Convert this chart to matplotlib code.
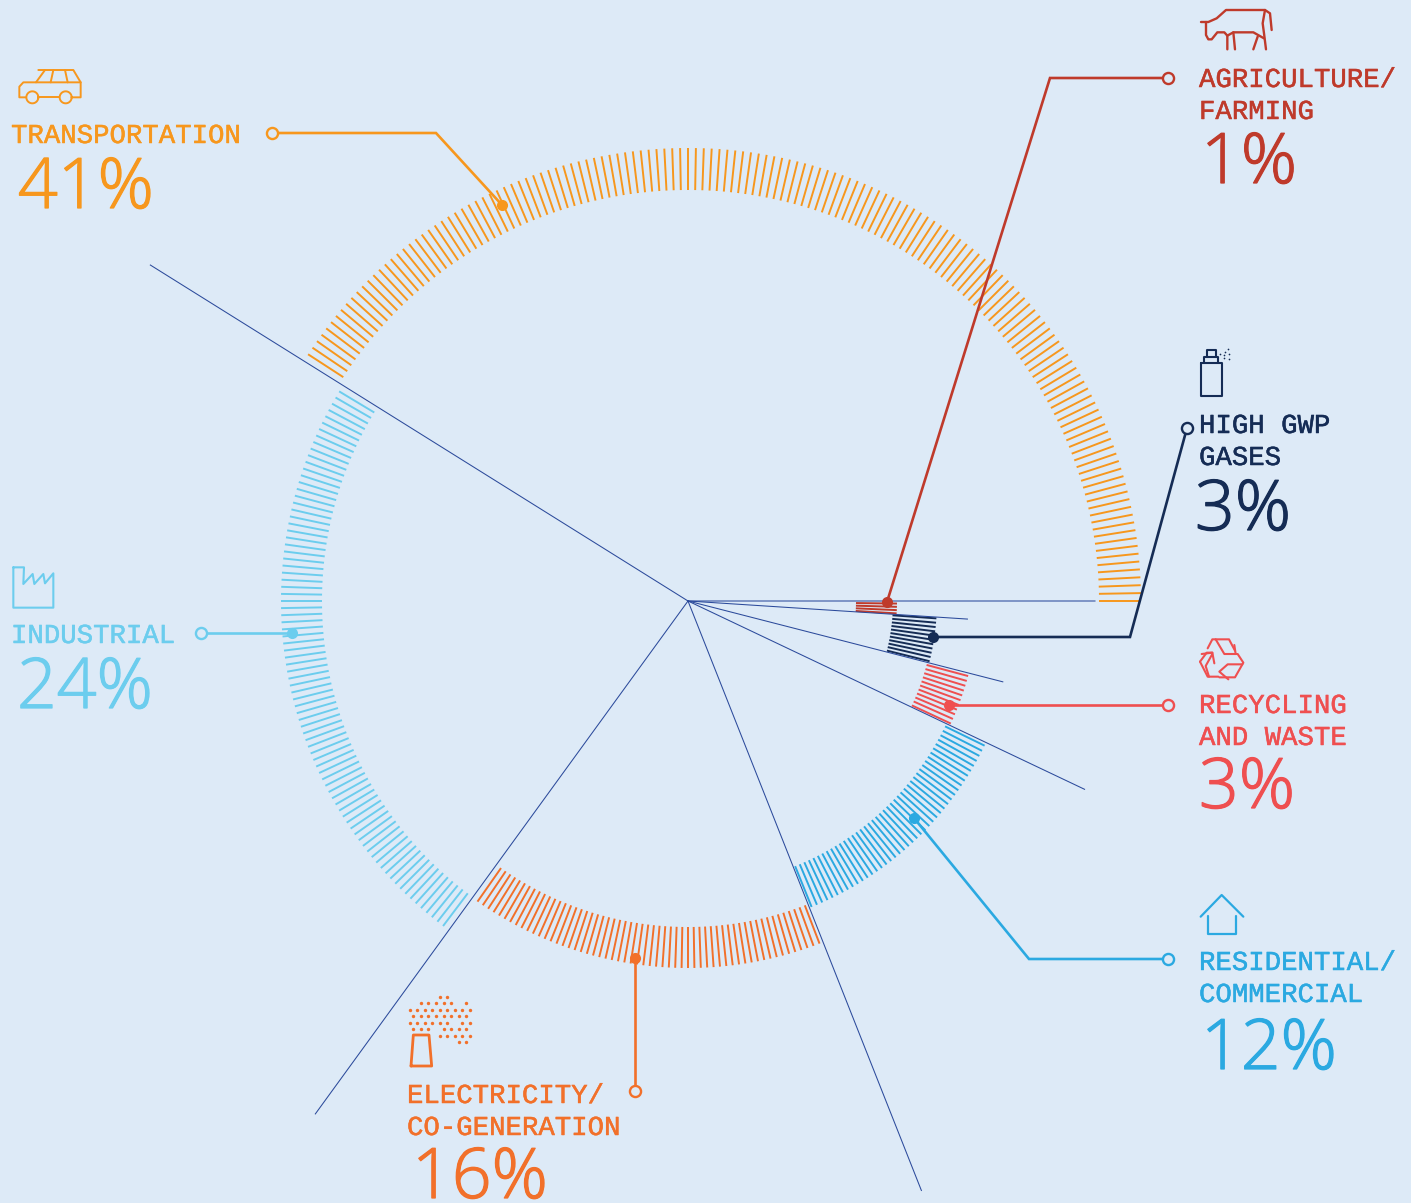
import numpy as np
import matplotlib
matplotlib.use("Agg")
import matplotlib.pyplot as plt
import matplotlib.patheffects as pe
from matplotlib.collections import LineCollection

# share of emissions, in drawing order (counter-clockwise from 3 o'clock)
sectors = ["transport", "industrial", "electricity", "residential", "recycling", "gwp", "farming"]
shares = [41, 24, 16, 12, 3, 3, 1]
tick_first = [0, 149, 235, 292, 335, 346, 356.6]
tick_count = [148, 85, 57, 43, 11, 11, 4]
tick_step = [1, 1, 1, 1, 1, 1, 0.9]
spoke_ang = [0, 148, 234, 291.6, 334.6, 345.6, 356.3]
spoke_len = [407, 634, 634, 634, 439, 325, 280]
inner_r = [411, 366, 326, 286, 247, 205, 168]
outer_r = [453, 407, 367, 330, 290, 249, 209]
colors = ["#F7971D", "#6CCDEE", "#F2702A", "#2BA9E1", "#EF4F50", "#152C55", "#BF3A2B"]

labels = {
    "transport": (["TRANSPORTATION"], "41%"),
    "industrial": (["INDUSTRIAL"], "24%"),
    "electricity": (["ELECTRICITY/", "CO-GENERATION"], "16%"),
    "residential": (["RESIDENTIAL/", "COMMERCIAL"], "12%"),
    "recycling": (["RECYCLING", "AND WASTE"], "3%"),
    "gwp": (["HIGH GWP", "GASES"], "3%"),
    "farming": (["AGRICULTURE/", "FARMING"], "1%"),
}
# x, first baseline, pct x, pct baseline
label_pos = {
    "transport": (11, 143, 18, 208),
    "industrial": (11, 643, 17, 708),
    "electricity": (407, 1103, 412, 1198),
    "residential": (1199, 970, 1201, 1069),
    "recycling": (1199, 713, 1199, 808),
    "gwp": (1199, 433, 1195, 530),
    "farming": (1199, 87, 1201, 183),
}
# leader: open circle first, dot last
leaders = {
    "transport": [(272, 133), (436, 133), (502, 205)],
    "industrial": [(201, 633), (292, 633)],
    "electricity": [(635, 1091), (635, 958)],
    "residential": [(1168, 959), (1029, 959), (914, 818)],
    "recycling": [(1168, 705), (949, 705)],
    "gwp": [(1187, 428), (1130, 637), (933, 637)],
    "farming": [(1168, 78), (1050, 78), (887, 602)],
}

BG = "#DDEAF7"
SPOKE = "#2B4A9B"
CX, CY = 688, 601

fig = plt.figure(figsize=(14.11, 12.03), dpi=100, facecolor=BG)
ax = fig.add_axes([0, 0, 1, 1])
ax.set_xlim(0, 1411)
ax.set_ylim(1203, 0)
ax.axis("off")


def polar(angle, r):
    a = np.radians(angle)
    return CX + r * np.cos(a), CY - r * np.sin(a)


def icon(paths, ox, oy, color, lw=1.5):
    for p in paths:
        xs = [ox + q[0] / 3 for q in p]
        ys = [oy + q[1] / 3 for q in p]
        ax.plot(xs, ys, color=color, lw=lw, solid_joinstyle="round", solid_capstyle="round", zorder=5)


for i in range(len(shares)):
    segs = []
    for k in range(tick_count[i]):
        ang = tick_first[i] + k * tick_step[i]
        segs.append([polar(ang, inner_r[i]), polar(ang, outer_r[i])])
    ax.add_collection(LineCollection(segs, colors=colors[i], linewidths=1.4, capstyle="butt", zorder=2))

# spokes
for ang, r in zip(spoke_ang, spoke_len):
    x, y = polar(ang, r)
    ax.plot([CX, x], [CY, y], color=SPOKE, lw=0.75, zorder=3, snap=False)

# leaders and text
for i, name in enumerate(sectors):
    c = colors[i]
    pts = leaders[name]
    ax.plot([p[0] for p in pts], [p[1] for p in pts], color=c, lw=1.9, solid_joinstyle="miter", zorder=4)
    ax.plot(*pts[0], "o", ms=8, mfc=BG, mec=c, mew=1.7, zorder=6)
    ax.plot(*pts[-1], "o", ms=8, color=c, mew=0, zorder=6)

    lines, pct = labels[name]
    x, y, px, py = label_pos[name]
    for j, t in enumerate(lines):
        ax.text(x, y + 32 * j, t, color=c, family="Liberation Mono", fontsize=19.7,
                va="baseline", ha="left", zorder=6,
                path_effects=[pe.withStroke(linewidth=0.35, foreground=c)])
    ax.text(px, py, pct, color=c, family="Open Sans", weight="light", fontsize=50.2,
            va="baseline", ha="left", zorder=6,
            path_effects=[pe.withStroke(linewidth=0.9, foreground=c)])

# icons
cow = [
    [(33, 66), (55, 66), (80, 55), (108, 30), (225, 30), (240, 40), (245, 90)],
    [(225, 30), (218, 70), (222, 100), (228, 148)],
    [(48, 66), (48, 105), (55, 118), (65, 118), (82, 97), (103, 97), (112, 107), (112, 148)],
    [(112, 107), (130, 97), (190, 97), (222, 115)],
    [(130, 97), (135, 148)],
    [(203, 110), (190, 148)],
]
icon(cow, 1190, 0, colors[6], 1.7)

car = [
    [(115, 45), (220, 45), (242, 82), (242, 127), (215, 127)],
    [(115, 127), (178, 127)],
    [(78, 127), (58, 127), (58, 95), (70, 82), (242, 82)],
    [(135, 45), (108, 82)],
    [(160, 45), (152, 82)],
    [(195, 45), (203, 82)],
]
icon(car, 0, 55, colors[0], 1.4)
for wx in (97, 197):
    th = np.linspace(0, 2 * np.pi, 40)
    ax.plot(wx / 3 + 6 * np.cos(th), 55 + 127 / 3 + 6 * np.sin(th), color=colors[0], lw=1.4, zorder=5)

factory = [[(40, 22), (72, 22), (70, 72), (98, 42), (103, 72), (130, 42), (135, 70), (160, 40), (160, 143), (40, 143), (40, 22)]]
icon(factory, 0, 560, colors[1], 1.5)

house = [[(32, 95), (95, 30), (160, 95)], [(53, 93), (53, 148), (137, 148), (137, 93)]]
icon(house, 1190, 885, colors[3], 1.6)

spray = [
    [(33, 70), (95, 70), (95, 168), (33, 168), (33, 70)],
    [(42, 70), (42, 52), (85, 52), (85, 70)],
    [(50, 52), (50, 30), (77, 30), (77, 52)],
]
icon(spray, 1190, 340, colors[5], 1.5)
spray_x = [115, 105, 90, 103, 117, 103, 117]
spray_y = [28, 35, 42, 45, 43, 55, 58]
ax.scatter([1190 + v / 3 for v in spray_x], [340 + v / 3 for v in spray_y], s=1.5, color=colors[5], lw=0, zorder=5)

recycle = [
    [(68, 55), (82, 28), (132, 28), (150, 62)],
    [(92, 28), (118, 72), (155, 72)],
    [(148, 45), (152, 72)],
    [(158, 72), (175, 98), (150, 142), (103, 142)],
    [(172, 103), (128, 103), (103, 125), (130, 148)],
    [(45, 95), (65, 68), (82, 68), (88, 100)],
    [(50, 72), (82, 68)],
    [(45, 95), (68, 140), (100, 140)],
    [(82, 72), (62, 108), (72, 140)],
]
icon(recycle, 1185, 630, colors[4], 1.5)

plume_rows = {
    35: [135, 157],
    55: [78, 100, 123, 146, 168, 213],
    74: [44, 67, 89, 112, 134, 157, 179, 202, 224],
    93: [55, 78, 100, 123, 146, 168, 191, 213],
    113: [44, 67, 89, 112, 134, 157, 202, 224],
    132: [55, 78, 100, 146, 168, 191, 213],
    152: [134, 157, 179, 202, 224],
    171: [191, 213],
}
for ry, row in plume_rows.items():
    ax.scatter([395 + v / 3 for v in row], [985 + ry / 3] * len(row), s=6, color=colors[2], lw=0, zorder=5)
stack = [[(48, 243), (55, 150), (102, 150), (110, 243), (48, 243)]]
icon(stack, 395, 985, colors[2], 2.0)

fig.savefig("out.png", dpi=100, facecolor=BG)
